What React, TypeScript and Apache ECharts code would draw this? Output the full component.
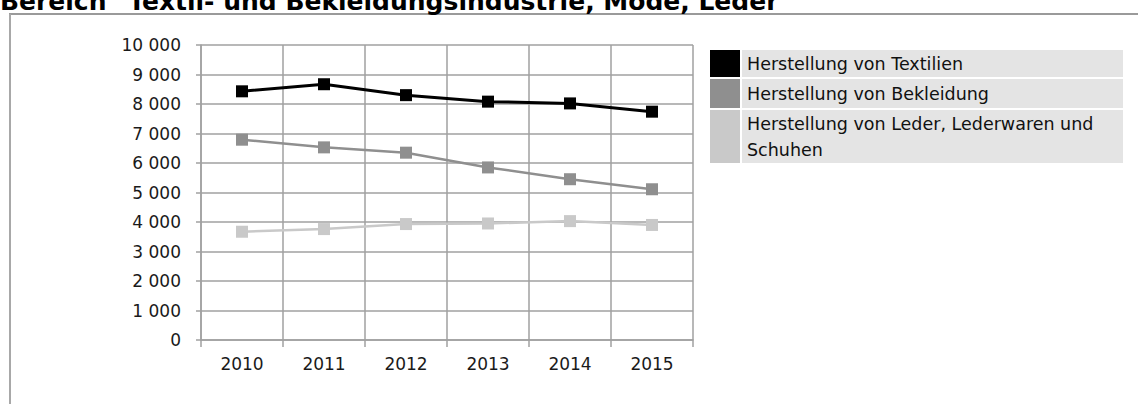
import React, { useEffect, useRef } from "react";
import * as echarts from "echarts";

const titleText = 'Bereich "Textil- und Bekleidungsindustrie, Mode, Leder"';
const years = ["2010", "2011", "2012", "2013", "2014", "2015"];
const seriesNames = [
  "Herstellung von Textilien",
  "Herstellung von Bekleidung",
  "Herstellung von Leder, Lederwaren und Schuhen",
];
const legendLines = [
  ["Herstellung von Textilien"],
  ["Herstellung von Bekleidung"],
  ["Herstellung von Leder, Lederwaren und", "Schuhen"],
];
const textilien = [8430, 8670, 8300, 8080, 8020, 7740];
const bekleidung = [6790, 6530, 6350, 5850, 5450, 5110];
const leder = [3670, 3760, 3930, 3950, 4030, 3900];
const colors = ["#000000", "#8f8f8f", "#c9c9c9"];
const yMin = 0;
const yMax = 10000;
const yStep = 1000;

const FONT = "DejaVu Sans";

function fmt(v: number): string {
  const s = String(Math.round(v));
  return s.replace(/\B(?=(\d{3})+(?!\d))/g, " ");
}

export default function App() {
  const ref = useRef<HTMLDivElement>(null);
  useEffect(() => {
    if (!ref.current) return;
    const chart = echarts.init(ref.current, undefined, { renderer: "svg" });
    const data = [textilien, bekleidung, leder];

    const rowTops = [50, 79, 110];
    const rowHeights = [27, 29, 53];
    const legendEls: any[] = [];
    rowTops.forEach((top, i) => {
      legendEls.push({
        type: "rect",
        shape: { x: 710, y: top, width: 30, height: rowHeights[i] },
        style: { fill: colors[i] },
        silent: true,
      });
      legendEls.push({
        type: "rect",
        shape: { x: 742, y: top, width: 381, height: rowHeights[i] },
        style: { fill: "#e4e4e4" },
        silent: true,
      });
      legendLines[i].forEach((line, j) => {
        legendEls.push({
          type: "text",
          x: 747,
          y: top + (i === 2 ? 13.5 + j * 26.5 : rowHeights[i] / 2),
          style: {
            text: line,
            font: `17.5px "${FONT}"`,
            fill: "#111",
            verticalAlign: "middle",
            align: "left",
          },
          silent: true,
        });
      });
    });

    chart.setOption({
      animation: false,
      backgroundColor: "#ffffff",
      grid: { left: 201, right: 445, top: 45, bottom: 64, containLabel: false },
      xAxis: {
        type: "category",
        data: years,
        boundaryGap: true,
        axisLine: { show: true, lineStyle: { color: "#a0a0a0", width: 1.5 } },
        axisTick: { show: true, interval: 0, length: 7, lineStyle: { color: "#a0a0a0", width: 1.5 } },
        splitLine: { show: true, interval: 0, lineStyle: { color: "#a0a0a0", width: 1.5 } },
        axisLabel: { margin: 15, color: "#1a1a1a", fontFamily: FONT, fontSize: 17 },
      },
      yAxis: {
        type: "value",
        min: yMin,
        max: yMax,
        interval: yStep,
        axisLine: { show: true, lineStyle: { color: "#a0a0a0", width: 1.5 } },
        axisTick: { show: true, length: 5, lineStyle: { color: "#a0a0a0", width: 1.5 } },
        splitLine: { show: true, lineStyle: { color: "#a0a0a0", width: 1.5 } },
        axisLabel: {
          margin: 20,
          color: "#1a1a1a",
          fontFamily: FONT,
          fontSize: 17,
          formatter: (v: number) => fmt(v),
        },
      },
      series: seriesNames.map((name, i) => ({
        name,
        type: "line",
        data: data[i],
        symbol: "rect",
        symbolSize: 12,
        lineStyle: { color: colors[i], width: i === 0 ? 3 : 2.5 },
        itemStyle: { color: colors[i] },
        z: 10 - i,
      })),
      graphic: [
        {
          type: "line",
          shape: { x1: 9, y1: 14, x2: 1138, y2: 14 },
          style: { stroke: "#9a9a9a", lineWidth: 2 },
          silent: true,
        },
        {
          type: "line",
          shape: { x1: 10, y1: 14, x2: 10, y2: 404 },
          style: { stroke: "#a8a8a8", lineWidth: 2 },
          silent: true,
        },
        {
          type: "text",
          x: 0,
          y: 1,
          style: {
            text: titleText,
            font: `bold 25px "${FONT}"`,
            fill: "#000",
            verticalAlign: "middle",
            align: "left",
          },
          silent: true,
        },
        ...legendEls,
      ],
    });
    return () => chart.dispose();
  }, []);
  return (
    <div
      ref={ref}
      style={{ position: "fixed", left: 0, top: 0, width: 1138, height: 404 }}
    />
  );
}
